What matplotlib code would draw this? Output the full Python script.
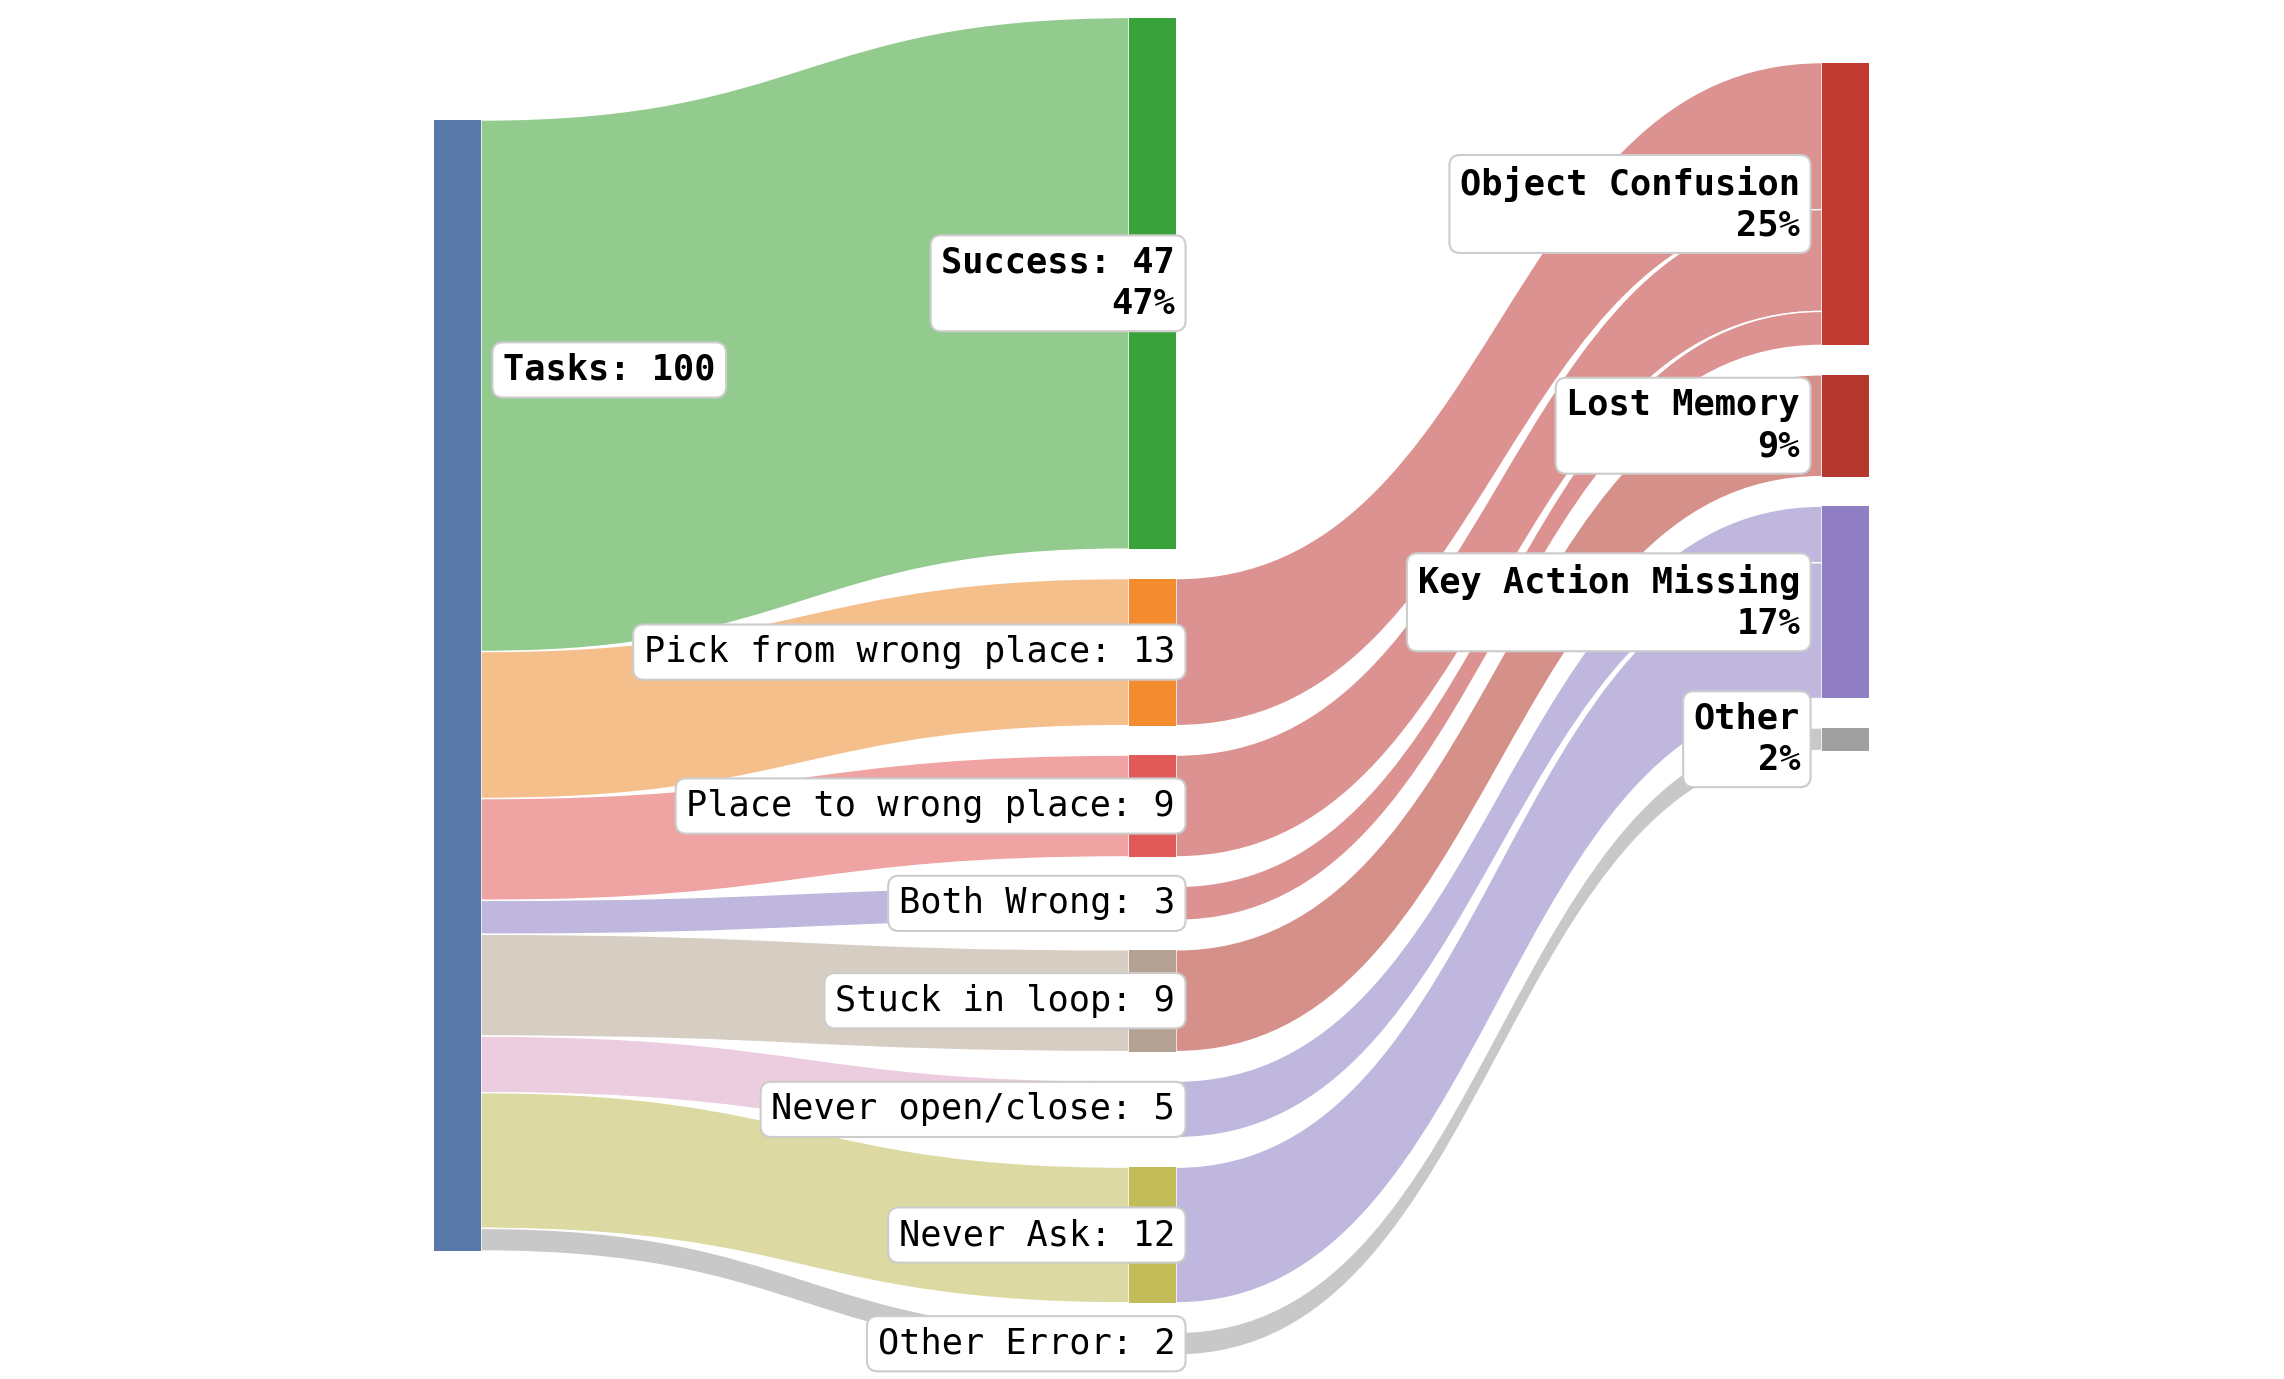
import matplotlib
matplotlib.use("Agg")
import matplotlib.pyplot as plt
from matplotlib.path import Path
from matplotlib.patches import PathPatch, Rectangle

# ---------------- data ----------------
source_label = "Tasks"
mid_labels = ["Success", "Pick from wrong place", "Place to wrong place", "Both Wrong",
              "Stuck in loop", "Never open/close", "Never Ask", "Other Error"]
mid_values = [47, 13, 9, 3, 9, 5, 12, 2]
right_labels = ["Object Confusion", "Lost Memory", "Key Action Missing", "Other"]
mid_target = [None, 0, 0, 0, 1, 2, 2, 3]   # index into right_labels

# ---------------- style ----------------
src_color = "#5778a9"
mid_node_colors = ["#3aa23a", "#f28c2e", "#e05a5a", "#9a8ccb", "#b3a293", "#e3a2cb", "#c2bc58", "#a0a0a0"]
mid_flow_colors = ["#93cb8f", "#f5bf8c", "#efa3a3", "#bfb7dd", "#d6cdc3", "#ecccdf", "#dcd9a3", "#c8c8c8"]
right_node_colors = ["#c23b33", "#b5382f", "#8f7fc2", "#a0a0a0"]
right_flow_colors = ["#dc9290", "#d6908a", "#bfb7dd", "#c8c8c8"]

W, H = 2284, 1379
unit = 11.31          # px per task
gap = 29.5            # px between nodes
node_w = 47.0
x_left, x_mid, x_right = 434.0, 1129.0, 1822.0
y_left0, y_mid0, y_right0 = 120.0, 17.5, 62.6
tasks_label_frac = 0.221
fs = 25.4

total = sum(mid_values)
right_values = [sum(v for v, t in zip(mid_values, mid_target) if t == i) for i in range(len(right_labels))]

fig = plt.figure(figsize=(W / 100, H / 100), dpi=100)
ax = fig.add_axes([0, 0, 1, 1])
ax.set_xlim(0, W)
ax.set_ylim(H, 0)
ax.axis("off")


def flow(x0, y0t, y0b, x1, y1t, y1b, color):
    xm = (x0 + x1) / 2
    verts = [(x0, y0t), (xm, y0t), (xm, y1t), (x1, y1t),
             (x1, y1b), (xm, y1b), (xm, y0b), (x0, y0b), (x0, y0t)]
    codes = [Path.MOVETO, Path.CURVE4, Path.CURVE4, Path.CURVE4,
             Path.LINETO, Path.CURVE4, Path.CURVE4, Path.CURVE4, Path.CLOSEPOLY]
    ax.add_patch(PathPatch(Path(verts, codes), facecolor=color, edgecolor="white", lw=1.0, zorder=1))


bbox = dict(boxstyle="round,pad=0.3", facecolor="white", edgecolor="#cccccc", lw=1.5)

# positions
src_top = y_left0
src_h = total * unit
mid_pos = []
y = y_mid0
for v in mid_values:
    mid_pos.append((y, y + v * unit))
    y += v * unit + gap
right_pos = []
y = y_right0
for v in right_values:
    right_pos.append((y, y + v * unit))
    y += v * unit + gap

# left -> middle flows
y = src_top
for i, v in enumerate(mid_values):
    t, b = mid_pos[i]
    flow(x_left + node_w, y, y + v * unit, x_mid, t, b, mid_flow_colors[i])
    y += v * unit

# middle -> right flows
offsets = [right_pos[j][0] for j in range(len(right_labels))]
for i, v in enumerate(mid_values):
    j = mid_target[i]
    if j is None:
        continue
    t, b = mid_pos[i]
    rt = offsets[j]
    flow(x_mid + node_w, t, b, x_right, rt, rt + v * unit, right_flow_colors[j])
    offsets[j] += v * unit

# nodes
ax.add_patch(Rectangle((x_left, src_top), node_w, src_h, facecolor=src_color, lw=0, zorder=2))
for i, (t, b) in enumerate(mid_pos):
    ax.add_patch(Rectangle((x_mid, t), node_w, b - t, facecolor=mid_node_colors[i], lw=0, zorder=2))
for j, (t, b) in enumerate(right_pos):
    ax.add_patch(Rectangle((x_right, t), node_w, b - t, facecolor=right_node_colors[j], lw=0, zorder=2))

# labels
ax.text(x_left + node_w + 22, src_top + tasks_label_frac * src_h, f"{source_label}: {total}",
        ha="left", va="center", fontsize=fs, family="DejaVu Sans Mono", fontweight="bold",
        bbox=bbox, zorder=3)
for i, (t, b) in enumerate(mid_pos):
    if i == 0:
        txt = f"{mid_labels[i]}: {mid_values[i]}\n{mid_values[i] / total * 100:.0f}%"
        wt = "bold"
    else:
        txt = f"{mid_labels[i]}: {mid_values[i]}"
        wt = "normal"
    ax.text(x_mid + node_w - 1, (t + b) / 2, txt, ha="right", va="center", multialignment="right",
            fontsize=fs, family="DejaVu Sans Mono", fontweight=wt, bbox=bbox, zorder=3,
            linespacing=1.25)
for j, (t, b) in enumerate(right_pos):
    txt = f"{right_labels[j]}\n{right_values[j] / total * 100:.0f}%"
    ax.text(x_right - 22, (t + b) / 2, txt, ha="right", va="center", multialignment="right",
            fontsize=fs, family="DejaVu Sans Mono", fontweight="bold", bbox=bbox, zorder=3,
            linespacing=1.25)

fig.savefig("out.png", dpi=100, facecolor="white")
